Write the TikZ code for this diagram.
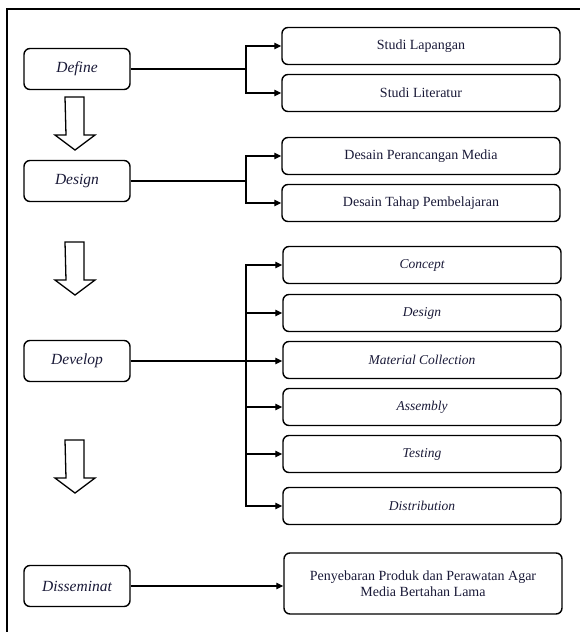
\documentclass[tikz,border=0pt]{standalone}
\usepackage{fontspec}
\setmainfont{Liberation Serif}
\usetikzlibrary{arrows.meta}
\definecolor{ink}{RGB}{25,25,55}
\begin{document}
\begin{tikzpicture}[x=1pt,y=-1pt,
  every node/.style={font=\fontsize{14}{16.5}\selectfont, text=ink},
  phase/.style={draw, line width=1.4pt, rounded corners=6pt, minimum width=106pt,
    minimum height=41pt, inner sep=2pt, font=\fontsize{15.5}{18}\selectfont\itshape},
  task/.style={draw, line width=1.4pt, rounded corners=6pt, minimum width=278pt,
    minimum height=37pt, inner sep=2pt},
  subtask/.style={task, font=\fontsize{13.5}{16}\selectfont\itshape},
  link/.style={line width=1.3pt},
  tip/.style={-{Triangle[length=7pt,width=6.5pt]}}]
  \useasboundingbox (0,0) rectangle (580,632);

  % frame (cut off on the right and bottom)
  \draw[line width=1.5pt] (7,632) -- (7,9) -- (580,9);

  % phases
  \node[phase] (define) at (77,69) {Define};
  \node[phase] (design) at (77,181) {Design};
  \node[phase] (develop) at (77,361) {Develop};
  \node[phase] (dissem) at (77,586) {Disseminat};

  % hollow arrows between the phases
  \foreach \t in {97,242,440} {
    \draw[line width=1.3pt, fill=white] (65,\t) -- (84,\t) -- (84,\t+38) -- (95,\t+38)
      -- (75,\t+53) -- (55,\t+38) -- (66,\t+38) -- cycle;
  }

  % Define
  \node[task] (lap) at (421,46) {Studi Lapangan};
  \node[task] (lit) at (421,93) {Studi Literatur};
  \coordinate (dfork) at (246,69);
  \draw[link] (define.east) -- (dfork);
  \draw[link,tip] (dfork) |- (lap.west);
  \draw[link,tip] (dfork) |- (lit.west);

  % Design
  \node[task] (media) at (421,156) {Desain Perancangan Media};
  \node[task] (tahap) at (421,203) {Desain Tahap Pembelajaran};
  \coordinate (gfork) at (246,181);
  \draw[link] (design.east) -- (gfork);
  \draw[link,tip] (gfork) |- (media.west);
  \draw[link,tip] (gfork) |- (tahap.west);

  % Develop
  \node[subtask] (con) at (422,265) {Concept};
  \node[subtask] (des) at (422,313) {Design};
  \node[subtask] (mat) at (422,360) {Material Collection};
  \node[subtask] (ass) at (422,407) {Assembly};
  \node[subtask] (tes) at (422,454) {Testing};
  \node[subtask] (dis) at (422,506) {Distribution};
  \coordinate (vfork) at (246,361);
  \draw[link,tip] (develop.east) -- (develop.east -| mat.west);
  \foreach \n in {con,des,ass,tes,dis} {
    \draw[link,tip] (vfork) |- (\n.west);
  }

  % Disseminat
  \node[task, minimum height=61pt, align=center] (peny) at (423,583.5)
    {Penyebaran Produk dan Perawatan Agar\\Media Bertahan Lama};
  \draw[link,tip] (dissem.east) -- (dissem.east -| peny.west);
\end{tikzpicture}
\end{document}
